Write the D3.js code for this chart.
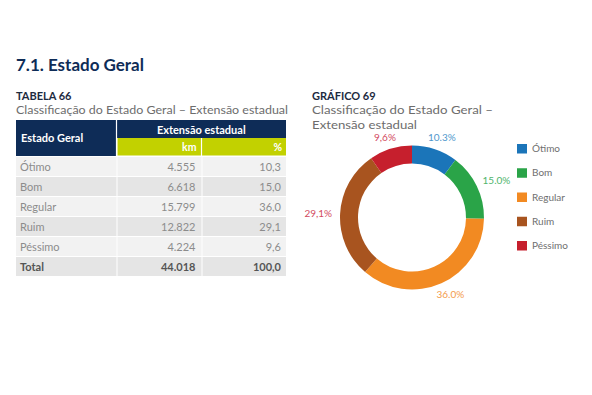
<!DOCTYPE html>
<html>
<head>
<meta charset="utf-8">
<script src="https://cdn.jsdelivr.net/npm/d3@7"></script>
<style>
  body { margin: 0; background: #fff; }
  svg { display: block; font-family: Lato, "Open Sans", sans-serif; }
</style>
</head>
<body>
<div id="chart"></div>
<script>
// data
const categories = ['Ótimo', 'Bom', 'Regular', 'Ruim', 'Péssimo'];
const kmValues = ['4.555', '6.618', '15.799', '12.822', '4.224'];
const pctValues = [10.3, 15.0, 36.0, 29.1, 9.6];
const sliceLabels = ['10.3%', '15.0%', '36.0%', '29,1%', '9,6%'];
const totalRow = ['Total', '44.018', '100,0'];

const sliceColors = ['#1b75b9', '#2aa448', '#f28a22', '#a8541f', '#c61f2d'];
const labelColors = ['#4f97cc', '#4fb46c', '#f39b4c', '#d24a60', '#d24a60'];

const width = 592, height = 395;
const navy = '#0e2c57';
const lime = '#c2d100';
const fmt = v => v.toFixed(1).replace('.', ',');

const svg = d3.select('#chart')
  .append('svg')
    .attr('width', width)
    .attr('height', height);

// section title
svg.append('text')
    .attr('x', 16).attr('y', 71)
    .attr('fill', navy)
    .attr('font-size', 17)
    .attr('font-weight', 700)
    .text('7.1. Estado Geral');

// ---- table ----
svg.append('text')
    .attr('x', 16).attr('y', 99.5)
    .attr('fill', '#1d2b3f')
    .attr('font-size', 11)
    .attr('font-weight', 700)
    .text('TABELA 66');

svg.append('text')
    .attr('x', 16).attr('y', 113.5)
    .attr('fill', '#6d6d6d')
    .attr('font-size', 11.5)
    .attr('textLength', 272)
    .attr('lengthAdjust', 'spacingAndGlyphs')
    .text('Classificação do Estado Geral – Extensão estadual');

const colX = [16, 116.5, 201.5, 286];
const headTop = 120, headMid = 138, rowTop = 156, rowH = 20;

const head = svg.append('g');
head.append('rect')
    .attr('x', colX[0]).attr('y', headTop)
    .attr('width', colX[3] - colX[0]).attr('height', headMid - headTop)
    .attr('fill', navy);
head.append('rect')
    .attr('x', colX[0]).attr('y', headMid)
    .attr('width', colX[1] - colX[0]).attr('height', rowTop - headMid)
    .attr('fill', navy);
head.append('rect')
    .attr('x', colX[1] + 1).attr('y', headMid)
    .attr('width', colX[3] - colX[1] - 1).attr('height', rowTop - headMid - 0.5)
    .attr('fill', lime);
// white separators in header
head.append('line')
    .attr('x1', colX[1]).attr('x2', colX[1])
    .attr('y1', headTop).attr('y2', rowTop)
    .attr('stroke', '#fff').attr('stroke-width', 1.2);
head.append('line')
    .attr('x1', colX[2]).attr('x2', colX[2])
    .attr('y1', headMid).attr('y2', rowTop)
    .attr('stroke', '#fff').attr('stroke-width', 1.2);

head.append('text')
    .attr('x', 21).attr('y', 142)
    .attr('fill', '#fff').attr('font-size', 11).attr('font-weight', 700)
    .text('Estado Geral');
head.append('text')
    .attr('x', (colX[1] + colX[3]) / 2).attr('y', 134)
    .attr('text-anchor', 'middle')
    .attr('fill', '#fff').attr('font-size', 11).attr('font-weight', 700)
    .text('Extensão estadual');
head.append('text')
    .attr('x', colX[2] - 5).attr('y', 151)
    .attr('text-anchor', 'end')
    .attr('fill', '#fff').attr('font-size', 10.5).attr('font-weight', 700)
    .text('km');
head.append('text')
    .attr('x', colX[3] - 4).attr('y', 151)
    .attr('text-anchor', 'end')
    .attr('fill', '#fff').attr('font-size', 10.5).attr('font-weight', 700)
    .text('%');

const rows = categories.map((c, i) => [c, kmValues[i], fmt(pctValues[i])]);
rows.push(totalRow);

const rowY = d3.scaleBand()
    .domain(d3.range(rows.length))
    .range([rowTop, rowTop + rowH * rows.length]);

const rowG = svg.selectAll('g.row')
  .data(rows)
  .join('g')
    .attr('class', 'row')
    .attr('transform', (d, i) => `translate(0,${rowY(i)})`);

rowG.each(function(d, i) {
  const g = d3.select(this);
  const fill = i % 2 === 0 ? '#f2f2f2' : '#e5e5e5';
  const bold = i === rows.length - 1;
  for (let c = 0; c < 3; c++) {
    g.append('rect')
        .attr('x', colX[c] + (c ? 1 : 0)).attr('y', 1)
        .attr('width', colX[c + 1] - colX[c] - (c ? 1 : 0))
        .attr('height', rowH - 1)
        .attr('fill', fill);
  }
  const txt = (x, anchor, s) => g.append('text')
      .attr('x', x).attr('y', 14.5)
      .attr('text-anchor', anchor)
      .attr('fill', bold ? '#555' : '#8c8c8c')
      .attr('font-size', 11)
      .attr('font-weight', bold ? 700 : 400)
      .text(s);
  txt(20, 'start', d[0]);
  txt(colX[2] - 6, 'end', d[1]);
  txt(colX[3] - 5, 'end', d[2]);
});

// ---- donut chart ----
svg.append('text')
    .attr('x', 312).attr('y', 99.5)
    .attr('fill', '#1d2b3f')
    .attr('font-size', 11)
    .attr('font-weight', 700)
    .text('GRÁFICO 69');

svg.append('text')
    .attr('x', 312).attr('y', 113.5)
    .attr('fill', '#6d6d6d')
    .attr('font-size', 12)
    .attr('textLength', 181)
    .attr('lengthAdjust', 'spacingAndGlyphs')
    .text('Classificação do Estado Geral –');
svg.append('text')
    .attr('x', 312).attr('y', 128.5)
    .attr('fill', '#6d6d6d')
    .attr('font-size', 12)
    .attr('textLength', 105)
    .attr('lengthAdjust', 'spacingAndGlyphs')
    .text('Extensão estadual');

const cx = 412, cy = 217.5, outerR = 72, innerR = 54, labelR = 80;

const color = d3.scaleOrdinal().domain(categories).range(sliceColors);
const labelColor = d3.scaleOrdinal().domain(categories).range(labelColors);

const pie = d3.pie().sort(null).value(d => d.v);
const arcs = pie(categories.map((c, i) => ({ c, v: pctValues[i], label: sliceLabels[i] })));

const arc = d3.arc().innerRadius(innerR).outerRadius(outerR);

const donut = svg.append('g').attr('transform', `translate(${cx},${cy})`);

donut.selectAll('path')
  .data(arcs)
  .join('path')
    .attr('d', arc)
    .attr('fill', d => color(d.data.c));

// labels just outside the ring, nudged away from it by half their width
donut.selectAll('text.lbl')
  .data(arcs)
  .join('text')
    .attr('class', 'lbl')
    .attr('font-size', 10)
    .attr('fill', d => labelColor(d.data.c))
    .attr('text-anchor', 'middle')
    .attr('dy', '0.35em')
    .text(d => d.data.label)
    .each(function(d) {
      const a = (d.startAngle + d.endAngle) / 2;
      const w = this.getComputedTextLength();
      const x = labelR * Math.sin(a) + Math.sin(a) * w / 2;
      const y = -labelR * Math.cos(a) - Math.cos(a) * 4;
      d3.select(this).attr('x', x).attr('y', y);
    });

// legend
const legY = d3.scalePoint()
    .domain(categories)
    .range([148.5, 245.5]);

const leg = svg.selectAll('g.leg')
  .data(categories)
  .join('g')
    .attr('class', 'leg')
    .attr('transform', d => `translate(517,${legY(d)})`);

leg.append('rect')
    .attr('x', 0).attr('y', -4.5)
    .attr('width', 10).attr('height', 9.5)
    .attr('fill', d => color(d));

leg.append('text')
    .attr('x', 15).attr('y', 0)
    .attr('dy', '0.35em')
    .attr('font-size', 10)
    .attr('fill', '#6f6f6f')
    .text(d => d);
</script>
</body>
</html>
